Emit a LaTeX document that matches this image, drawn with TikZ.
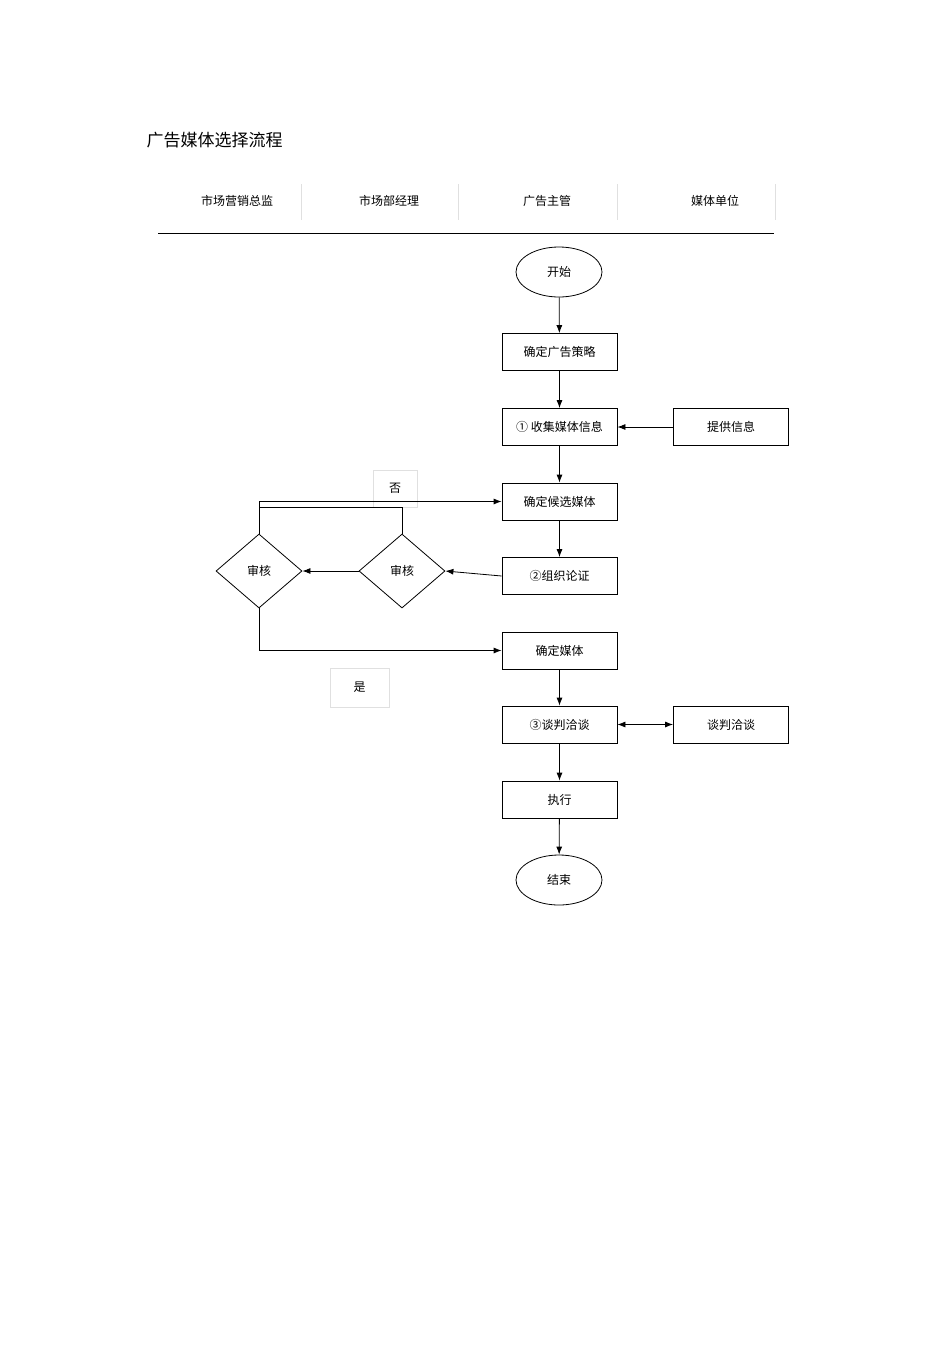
\documentclass[tikz,border=0pt]{standalone}
\usepackage{fontspec}
\setmainfont{Noto Sans CJK SC}
\usetikzlibrary{shapes.geometric,arrows.meta}
\begin{document}
\begin{tikzpicture}[x=1pt,y=-1pt,
 box/.style={draw,thick,minimum width=115pt,minimum height=37pt,inner sep=0pt,font=\fontsize{12}{12}\selectfont},
 ell/.style={draw,thick,ellipse,minimum width=86pt,minimum height=50pt,inner sep=0pt,font=\fontsize{12}{12}\selectfont},
 dia/.style={draw,thick,diamond,minimum width=86pt,minimum height=74pt,inner sep=0pt,font=\fontsize{12}{12}\selectfont},
 lab/.style={draw=black!12,inner sep=0pt,font=\fontsize{12}{12}\selectfont},
 hd/.style={font=\fontsize{12}{12}\selectfont},
 arr/.style={thick,-{Latex[length=8pt,width=6pt]}}]
\useasboundingbox (0,0) rectangle (950,1345);
\node[anchor=west,font=\fontsize{17}{17}\selectfont] (title) at (143,140) {广告媒体选择流程};
\node[hd] (h1) at (237,201) {市场营销总监};
\node[hd] (h2) at (389,201) {市场部经理};
\node[hd] (h3) at (547,201) {广告主管};
\node[hd] (h4) at (715,201) {媒体单位};
\foreach \x in {301,458,617,775} \draw[black!12] (\x,184) -- (\x,220);
\draw[thick] (158,233) -- (774,233);
\node[ell] (start) at (559,272) {开始};
\node[box] (b1) at (559.5,352) {确定广告策略};
\node[box] (b2) at (559.5,427) {① 收集媒体信息};
\node[box] (p) at (731,427) {提供信息};
\node[box] (b3) at (559.5,501.5) {确定候选媒体};
\node[box] (b4) at (559.5,576) {②组织论证};
\node[dia] (d2) at (402,571) {审核};
\node[dia] (d1) at (259,571) {审核};
\node[box] (b5) at (559.5,650.5) {确定媒体};
\node[box] (b6) at (559.5,724.5) {③谈判洽谈};
\node[box] (n) at (731,724.5) {谈判洽谈};
\node[box] (b7) at (559.5,799.5) {执行};
\node[ell] (end) at (559,880) {结束};
\node[lab,minimum width=44pt,minimum height=37pt] (no) at (395,488.5) {否};
\node[lab,minimum width=59pt,minimum height=39pt] (yes) at (359.5,687.5) {是};
\draw[arr] (start) -- (b1);
\draw[arr] (b1) -- (b2);
\draw[arr] (p) -- (b2);
\draw[arr] (b2) -- (b3);
\draw[arr] (b3) -- (b4);
\draw[arr] (b4.west) -- (d2.east);
\draw[arr] (d2.west) -- (d1.east);
\coordinate (t) at (259,507);
\draw[thick] (d2.north) |- (t);
\draw[arr] (d1.north) |- (b3.west);
\draw[arr] (d1.south) |- (b5.west);
\draw[arr] (b5) -- (b6);
\draw[thick,{Latex[length=8pt,width=6pt]}-{Latex[length=8pt,width=6pt]}] (b6) -- (n);
\draw[arr] (b6) -- (b7);
\draw[arr] (b7) -- (end);
\end{tikzpicture}
\end{document}
